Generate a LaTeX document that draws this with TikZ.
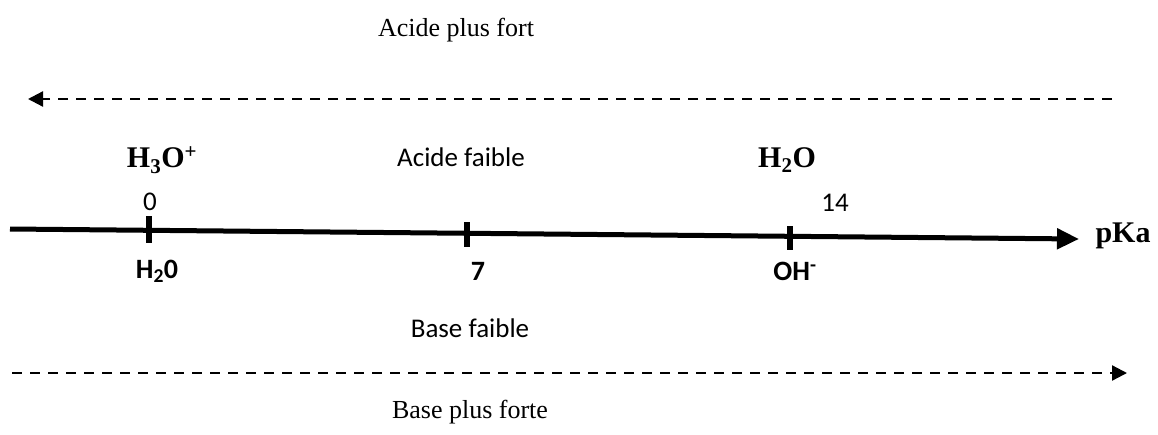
\documentclass[tikz,border=0pt]{standalone}
\usepackage{fontspec}
\setmainfont{Liberation Serif}
\newfontfamily\calib{Carlito}
\usetikzlibrary{arrows.meta}
\tikzset{
  serif/.style={font=\fontsize{26}{28}\selectfont},
  serifbold/.style={font=\fontsize{30}{32}\selectfont\bfseries},
  sans/.style={font=\fontsize{27}{29}\selectfont\calib},
  sansbold/.style={font=\fontsize{28}{30}\selectfont\calib\bfseries},
  trend/.style={line width=2.3pt, dash pattern=on 10pt off 8pt,
    -{Triangle[length=15pt,width=15pt]}},
  axis/.style={line width=5pt, -{Triangle[length=22pt,width=20pt]}},
  tick/.style={line width=6pt},
}
\begin{document}
\begin{tikzpicture}[x=1pt,y=-1pt]
\useasboundingbox (0,0) rectangle (1158,434);

% direction of acid strength
\coordinate (acR) at (1112,99);
\coordinate (acL) at (28,99);
\draw[trend] (acR) -- (acL);
\node[serif] (acfort) at (456,30) {Acide plus fort};
\node[sans] (acfaible) at (461,157) {Acide faible};

% pKa axis
\coordinate (axL) at (10,229);
\coordinate (axR) at (1079,239);
\draw[axis] (axL) -- (axR);
\node[serifbold, anchor=west] (pka) at (1092,236) {pKa};

% ticks
\coordinate (t0a) at (149,216); \coordinate (t0b) at (149,243);
\coordinate (t7a) at (467,222); \coordinate (t7b) at (467,247);
\coordinate (t14a) at (790,226); \coordinate (t14b) at (790,250);
\draw[tick] (t0a) -- (t0b);
\draw[tick] (t7a) -- (t7b);
\draw[tick] (t14a) -- (t14b);

% labels above the axis
\node[serifbold] (h3o) at (162,160) {H\textsubscript{3}O\textsuperscript{+}};
\node[sans] (n0) at (150,202) {0};
\node[serifbold] (h2o) at (787,160) {H\textsubscript{2}O};
\node[sans] (n14) at (835,203) {14};

% labels below the axis
\node[sansbold] (h20) at (157,271) {H\textsubscript{2}0};
\node[sansbold] (n7) at (478,271) {7};
\node[sansbold] (oh) at (795,271) {OH\textsuperscript{-}};

% direction of base strength
\node[sans] (bfaible) at (470,328) {Base faible};
\coordinate (bL) at (12,373);
\coordinate (bR) at (1127,373);
\draw[trend] (bL) -- (bR);
\node[serif] (bforte) at (470,412) {Base plus forte};
\end{tikzpicture}
\end{document}
